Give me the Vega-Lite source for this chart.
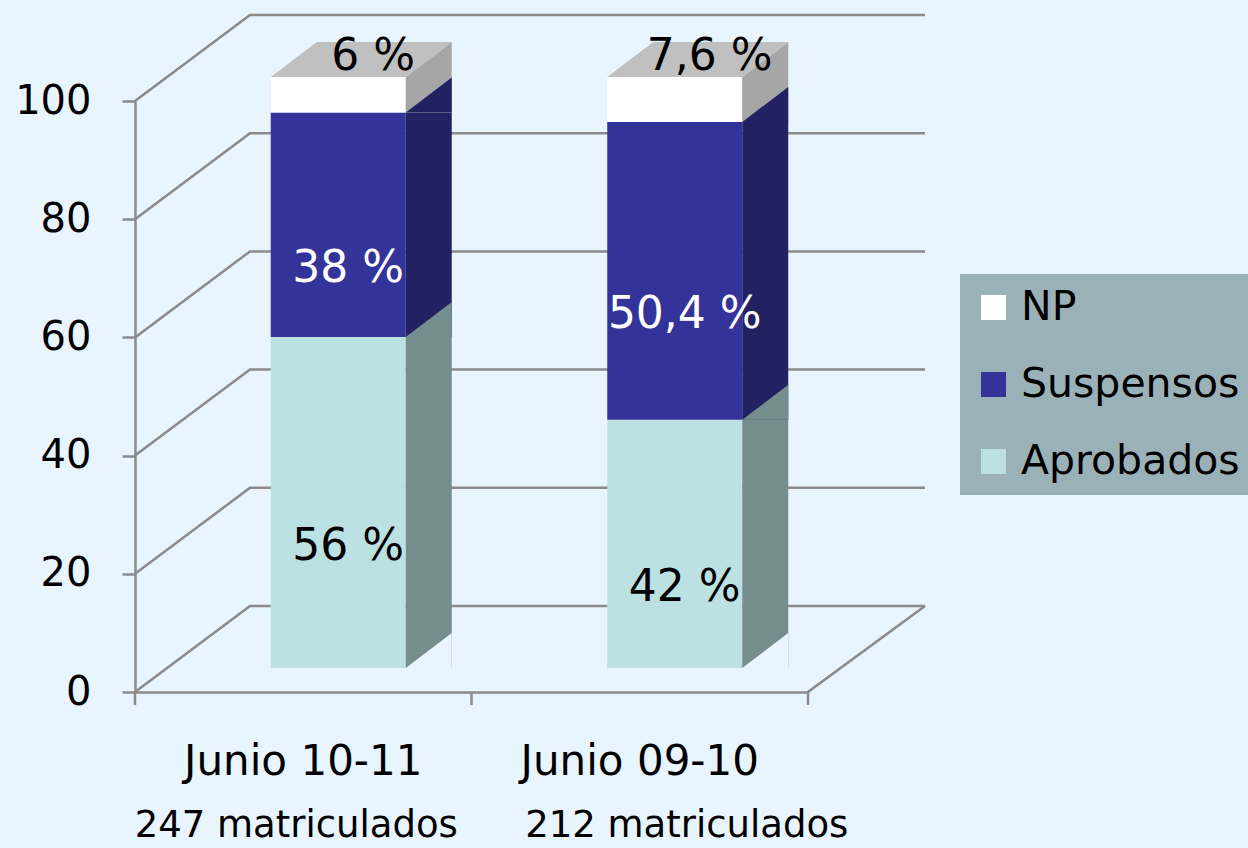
{
  "$schema": "https://vega.github.io/schema/vega-lite/v6.json",
  "autosize": {"type": "none"},
  "width": 673,
  "height": 591,
  "padding": {"left": 135, "top": 101, "right": 440, "bottom": 156},
  "background": "#e8f5fe",
  "config": {
    "view": {"stroke": null},
    "font": "DejaVu Sans",
    "axisY": {"domainColor": "#8a8a8a", "domainWidth": 2.5, "tickColor": "#8a8a8a", "tickWidth": 2.5, "tickSize": 13, "labelFontSize": 40, "labelFont": "DejaVu Sans", "labelColor": "black", "labelPadding": 31, "grid": false},
    "axisX": {"domainColor": "#8a8a8a", "domainWidth": 2.5, "ticks": false, "tickSize": 0, "labelFontSize": 42, "labelFont": "DejaVu Sans", "labelColor": "black", "labelPadding": 49, "labelLimit": 400, "grid": false, "labelAngle": 0}
  },
  "layer": [
    {
      "data": {"values": [{"v": 0}, {"v": 20}, {"v": 40}, {"v": 60}, {"v": 80}, {"v": 100}]},
      "mark": {"type": "point", "shape": "M0,0L2.3,-1.72L15.8,-1.72", "size": 10000, "filled": false, "stroke": "#8a8a8a", "strokeWidth": 2.5, "opacity": 1},
      "encoding": {
        "x": {"value": 0},
        "y": {"field": "v", "type": "quantitative", "scale": {"domain": [0, 100], "nice": false}, "axis": {"values": [0, 20, 40, 60, 80, 100], "title": null}}
      }
    },
    {
      "data": {"values": [{"Curso": "Junio 10-11"}, {"Curso": "Junio 09-10"}]},
      "mark": {"type": "point", "shape": "M0,0L0,0.26", "size": 10000, "filled": false, "stroke": "#8a8a8a", "strokeWidth": 2.5, "opacity": 1},
      "encoding": {
        "x": {"field": "Curso", "type": "nominal", "bandPosition": 0, "axis": {"title": null}},
        "y": {"value": "height"}
      }
    },
    {
      "data": {"values": [{"v": 0}]},
      "mark": {"type": "point", "shape": "M0,0.26L0,0L2.34,-1.72", "size": 10000, "filled": false, "stroke": "#8a8a8a", "strokeWidth": 2.5, "opacity": 1},
      "encoding": {
        "x": {"value": "width"},
        "y": {"value": "height"}
      }
    },
    {
      "data": {"values": [
        {"Curso": "Junio 10-11", "Estado": "Aprobados", "Pct": 56, "rank": 1, "Etiqueta": "56 %", "Matric": "247 matriculados"},
        {"Curso": "Junio 10-11", "Estado": "Suspensos", "Pct": 38, "rank": 2, "Etiqueta": "38 %", "Matric": "247 matriculados"},
        {"Curso": "Junio 10-11", "Estado": "NP", "Pct": 6, "rank": 3, "Etiqueta": "6 %", "Matric": "247 matriculados"},
        {"Curso": "Junio 09-10", "Estado": "Aprobados", "Pct": 42, "rank": 1, "Etiqueta": "42 %", "Matric": "212 matriculados"},
        {"Curso": "Junio 09-10", "Estado": "Suspensos", "Pct": 50.4, "rank": 2, "Etiqueta": "50,4 %", "Matric": "212 matriculados"},
        {"Curso": "Junio 09-10", "Estado": "NP", "Pct": 7.6, "rank": 3, "Etiqueta": "7,6 %", "Matric": "212 matriculados"}
      ]},
      "transform": [
        {"stack": "Pct", "groupby": ["Curso"], "sort": [{"field": "rank", "order": "ascending"}], "as": ["y0", "y1"]}
      ],
      "layer": [
        {
          "mark": {"type": "bar", "width": 135, "xOffset": 35, "yOffset": -24, "y2Offset": -24},
          "encoding": {
            "x": {"field": "Curso", "type": "nominal", "scale": {"type": "band", "domain": ["Junio 10-11", "Junio 09-10"], "paddingInner": 0, "paddingOuter": 0}, "axis": {"title": null}},
            "y": {"field": "y1", "type": "quantitative", "axis": {"values": [0, 20, 40, 60, 80, 100], "title": null}},
            "y2": {"field": "y0"},
            "color": {
              "field": "Estado", "type": "nominal",
              "scale": {"domain": ["NP", "Suspensos", "Aprobados"], "range": ["#ffffff", "#333399", "#bce1e3"]},
              "legend": {"orient": "none", "legendX": 825, "legendY": 173, "title": null, "fillColor": "#9bb1b8", "padding": 13, "symbolType": "square", "symbolSize": 625, "symbolStrokeWidth": 0, "symbolOpacity": 1, "labelFontSize": 41, "labelFont": "DejaVu Sans", "labelColor": "black", "labelOffset": 7, "labelLimit": 500, "rowPadding": 35}
            }
          }
        },
        {
          "mark": {"type": "bar", "width": 46, "xOffset": 125.5, "yOffset": -24, "y2Offset": -24},
          "encoding": {
            "x": {"field": "Curso", "type": "nominal", "axis": {"title": null}},
            "y": {"field": "y1", "type": "quantitative", "axis": {"values": [0, 20, 40, 60, 80, 100], "title": null}},
            "y2": {"field": "y0"},
            "color": {"condition": [{"test": "datum.Estado=='NP'", "value": "#a6a6a6"}, {"test": "datum.Estado=='Suspensos'", "value": "#222162"}], "value": "#768d8e"}
          }
        },
        {
          "mark": {"type": "point", "shape": "M-0.92,0L0,-0.7L0,0Z", "size": 10000, "filled": true, "opacity": 1, "xOffset": 148.5, "yOffset": -24},
          "encoding": {
            "x": {"field": "Curso", "type": "nominal", "axis": {"title": null}},
            "y": {"field": "y1", "type": "quantitative", "axis": {"values": [0, 20, 40, 60, 80, 100], "title": null}},
            "color": {"condition": [{"test": "datum.Estado=='NP'", "value": "#a6a6a6"}, {"test": "datum.Estado=='Suspensos'", "value": "#222162"}], "value": "#768d8e"}
          }
        },
        {
          "transform": [{"filter": "datum.rank==1"}],
          "mark": {"type": "point", "shape": "M-0.92,0L0,-0.7L0,0Z", "size": 10000, "filled": true, "opacity": 1, "xOffset": 148.5, "yOffset": -24, "color": "#e8f5fe"},
          "encoding": {
            "x": {"field": "Curso", "type": "nominal", "axis": {"title": null}},
            "y": {"field": "y0", "type": "quantitative", "axis": {"values": [0, 20, 40, 60, 80, 100], "title": null}}
          }
        },
        {
          "transform": [{"filter": "datum.rank==3"}],
          "mark": {"type": "point", "shape": "M-2.7,0L0,0L0.92,-0.7L-1.78,-0.7Z", "size": 10000, "filled": true, "opacity": 1, "xOffset": 102.5, "yOffset": -24, "color": "#c0c0c0"},
          "encoding": {
            "x": {"field": "Curso", "type": "nominal", "axis": {"title": null}},
            "y": {"field": "y1", "type": "quantitative", "axis": {"values": [0, 20, 40, 60, 80, 100], "title": null}}
          }
        },
        {
          "transform": [{"filter": "datum.rank<3"}, {"fold": ["y0", "y1"], "as": ["k", "yv"]}],
          "mark": {"type": "text", "fontSize": 44, "font": "DejaVu Sans", "xOffset": 45, "yOffset": 20, "baseline": "middle", "align": "center"},
          "encoding": {
            "x": {"field": "Curso", "type": "nominal", "axis": {"title": null}},
            "y": {"aggregate": "mean", "field": "yv", "type": "quantitative", "axis": {"values": [0, 20, 40, 60, 80, 100], "title": null}},
            "detail": {"field": "Estado"},
            "text": {"field": "Etiqueta"},
            "color": {"condition": {"test": "datum.Estado=='Suspensos'", "value": "white"}, "value": "black"}
          }
        },
        {
          "transform": [{"filter": "datum.rank==3"}],
          "mark": {"type": "text", "fontSize": 44, "font": "DejaVu Sans", "xOffset": 70, "yOffset": -44, "baseline": "middle", "align": "center", "color": "black"},
          "encoding": {
            "x": {"field": "Curso", "type": "nominal", "axis": {"title": null}},
            "y": {"field": "y1", "type": "quantitative", "axis": {"values": [0, 20, 40, 60, 80, 100], "title": null}},
            "text": {"field": "Etiqueta"}
          }
        },
        {
          "transform": [{"filter": "datum.rank==1 && datum.Curso=='Junio 10-11'"}],
          "mark": {"type": "text", "fontSize": 37, "font": "DejaVu Sans", "yOffset": 134, "xOffset": -7, "baseline": "middle", "align": "center", "color": "black"},
          "encoding": {
            "x": {"field": "Curso", "type": "nominal", "axis": {"title": null}},
            "y": {"value": "height"},
            "text": {"field": "Matric"}
          }
        },
        {
          "transform": [{"filter": "datum.rank==1 && datum.Curso=='Junio 09-10'"}],
          "mark": {"type": "text", "fontSize": 37, "font": "DejaVu Sans", "yOffset": 134, "xOffset": 47, "baseline": "middle", "align": "center", "color": "black"},
          "encoding": {
            "x": {"field": "Curso", "type": "nominal", "axis": {"title": null}},
            "y": {"value": "height"},
            "text": {"field": "Matric"}
          }
        }
      ]
    }
  ]
}
